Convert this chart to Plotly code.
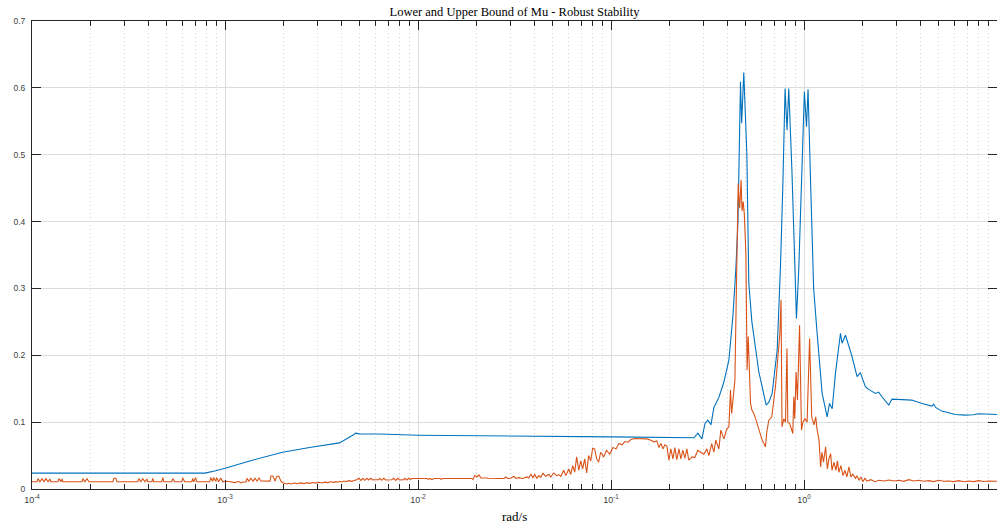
import plotly.graph_objects as go

# Upper bound of mu (log10 of frequency in rad/s, value)
logw_upper = [-4.000, -3.648, -3.493, -3.441, -3.390, -3.105, -3.053, -3.000, -2.872, -2.702,
              -2.562, -2.407, -2.334, -2.324, -2.303, -2.200, -2.000, -1.579, -1.000, -0.570,
              -0.550, -0.529, -0.513, -0.498, -0.482, -0.467, -0.441, -0.415, -0.389, -0.368,
              -0.353, -0.342, -0.329, -0.323, -0.312, -0.296, -0.286, -0.270, -0.251, -0.234,
              -0.217, -0.196, -0.182, -0.165, -0.139, -0.122, -0.110, -0.098, -0.088, -0.079,
              -0.063, -0.050, -0.039, -0.027, -0.011, 0.002, 0.013, 0.021, 0.035, 0.050,
              0.068, 0.094, 0.120, 0.132, 0.146, 0.163, 0.189, 0.197, 0.215, 0.249,
              0.275, 0.292, 0.318, 0.335, 0.370, 0.387, 0.404, 0.439, 0.456, 0.490,
              0.559, 0.611, 0.663, 0.672, 0.682, 0.714, 0.783, 0.835, 0.878, 0.904,
              0.973, 1.000]
mu_upper = [0.0238, 0.0238, 0.0240, 0.0248, 0.0242, 0.0238, 0.0270, 0.0310, 0.0420, 0.0550,
            0.0620, 0.0690, 0.0810, 0.0836, 0.0825, 0.0822, 0.0805, 0.0790, 0.0780, 0.0766,
            0.0836, 0.0750, 0.0980, 0.1030, 0.0960, 0.1220, 0.1370, 0.1600, 0.1930, 0.2600,
            0.3300, 0.4000, 0.6090, 0.5470, 0.6230, 0.5000, 0.3080, 0.2500, 0.2080, 0.1750,
            0.1530, 0.1255, 0.1300, 0.1430, 0.2080, 0.3320, 0.4500, 0.5990, 0.5370, 0.5990,
            0.4800, 0.3600, 0.2550, 0.3300, 0.4600, 0.5940, 0.5420, 0.5980, 0.4500, 0.3000,
            0.2330, 0.1430, 0.1080, 0.1280, 0.1200, 0.1730, 0.2330, 0.2180, 0.2300, 0.1980,
            0.1680, 0.1740, 0.1530, 0.1490, 0.1430, 0.1450, 0.1380, 0.1255, 0.1345, 0.1340,
            0.1330, 0.1280, 0.1240, 0.1270, 0.1220, 0.1165, 0.1115, 0.1105, 0.1110, 0.1125,
            0.1115, 0.1115]

# Lower bound of mu (log10 of frequency in rad/s, value)
logw_lower = [-4.000, -3.974, -3.969, -3.959, -3.948, -3.938, -3.928, -3.917, -3.907, -3.902,
              -3.866, -3.860, -3.850, -3.845, -3.840, -3.741, -3.736, -3.726, -3.715, -3.705,
              -3.581, -3.576, -3.565, -3.560, -3.452, -3.446, -3.436, -3.426, -3.415, -3.405,
              -3.400, -3.379, -3.374, -3.369, -3.328, -3.322, -3.317, -3.276, -3.271, -3.260,
              -3.224, -3.219, -3.209, -3.172, -3.167, -3.162, -3.152, -3.146, -3.079, -3.074,
              -3.064, -3.059, -3.048, -3.043, -3.033, -3.022, -3.012, -3.000,
              -2.979, -2.959, -2.948, -2.938, -2.928, -2.917, -2.907, -2.891, -2.886, -2.876,
              -2.866, -2.855, -2.845, -2.834, -2.824, -2.814, -2.798, -2.767, -2.762, -2.752,
              -2.741, -2.731, -2.721, -2.710, -2.700, -2.679, -2.669, -2.659, -2.638, -2.628,
              -2.607, -2.591, -2.576, -2.560, -2.545, -2.529, -2.514, -2.498, -2.483, -2.467,
              -2.452, -2.436, -2.426, -2.415, -2.405, -2.395, -2.384, -2.374, -2.359, -2.343,
              -2.327, -2.317, -2.307, -2.296, -2.286, -2.276, -2.265, -2.255, -2.245, -2.234,
              -2.224, -2.203, -2.198, -2.188, -2.178, -2.167, -2.136, -2.126, -2.115, -2.105,
              -2.095, -2.074, -2.069, -2.058, -2.048, -2.038, -2.033,
              -1.953, -1.948, -1.938, -1.928, -1.917, -1.886, -1.881, -1.871, -1.860, -1.855,
              -1.721, -1.715, -1.705, -1.695, -1.684, -1.674, -1.648, -1.633, -1.581, -1.555,
              -1.545, -1.534, -1.519, -1.503, -1.493, -1.478, -1.457, -1.436, -1.426, -1.415,
              -1.405, -1.395, -1.384, -1.374, -1.364, -1.353, -1.338, -1.322, -1.312, -1.297,
              -1.281, -1.271, -1.260, -1.245, -1.234, -1.219, -1.209, -1.198, -1.188, -1.178,
              -1.167, -1.157, -1.147, -1.136, -1.126, -1.116, -1.105, -1.095, -1.085, -1.074,
              -1.064, -1.054, -1.038, -1.023, -1.007,
              -0.990, -0.974, -0.959, -0.943, -0.928, -0.912, -0.897, -0.876, -0.855, -0.834,
              -0.814, -0.793, -0.778, -0.762, -0.752, -0.741, -0.731, -0.721, -0.710, -0.700,
              -0.690, -0.679, -0.669, -0.659, -0.648, -0.638, -0.628, -0.617, -0.607, -0.597,
              -0.581, -0.566, -0.550, -0.535, -0.519, -0.503, -0.493, -0.478, -0.467, -0.457,
              -0.441, -0.431, -0.415, -0.400, -0.389, -0.381, -0.375, -0.369, -0.358, -0.349,
              -0.341, -0.338, -0.333, -0.326, -0.321, -0.315, -0.309, -0.301, -0.295, -0.289,
              -0.277, -0.270, -0.260, -0.250, -0.234, -0.219, -0.200, -0.193, -0.182, -0.167,
              -0.148, -0.136, -0.125, -0.119, -0.114, -0.105, -0.096, -0.088, -0.084, -0.074,
              -0.058, -0.053, -0.048, -0.041, -0.034, -0.023, -0.013, -0.006,
              0.005, 0.016, 0.029, 0.040, 0.052, 0.061, 0.067, 0.078, 0.086, 0.093,
              0.101, 0.112, 0.121, 0.129, 0.138, 0.145, 0.155, 0.166, 0.173, 0.181,
              0.191, 0.202, 0.212, 0.222, 0.233, 0.243, 0.253, 0.267, 0.274, 0.285,
              0.295, 0.305, 0.316, 0.326, 0.347, 0.367, 0.388, 0.414, 0.440, 0.466,
              0.491, 0.517, 0.543, 0.569, 0.595, 0.621, 0.647, 0.672, 0.698, 0.724,
              0.750, 0.776, 0.802, 0.828, 0.854, 0.879, 0.905, 0.931, 0.957, 1.000]
mu_lower = [0.0108, 0.0108, 0.0155, 0.0108, 0.0155, 0.0108, 0.0155, 0.0108, 0.0150, 0.0108,
            0.0108, 0.0155, 0.0108, 0.0150, 0.0108, 0.0108, 0.0155, 0.0108, 0.0155, 0.0108,
            0.0108, 0.0160, 0.0160, 0.0108, 0.0108, 0.0155, 0.0108, 0.0155, 0.0108, 0.0150,
            0.0108, 0.0108, 0.0160, 0.0108, 0.0108, 0.0170, 0.0108, 0.0108, 0.0155, 0.0108,
            0.0108, 0.0165, 0.0108, 0.0108, 0.0160, 0.0108, 0.0170, 0.0108, 0.0108, 0.0170,
            0.0115, 0.0170, 0.0115, 0.0170, 0.0108, 0.0165, 0.0108, 0.0115,
            0.0112, 0.0100, 0.0095, 0.0108, 0.0110, 0.0090, 0.0105, 0.0105, 0.0160, 0.0115,
            0.0160, 0.0115, 0.0160, 0.0120, 0.0165, 0.0120, 0.0118, 0.0118, 0.0195, 0.0195,
            0.0120, 0.0190, 0.0190, 0.0118, 0.0090, 0.0075, 0.0085, 0.0075, 0.0090, 0.0078,
            0.0092, 0.0080, 0.0095, 0.0085, 0.0098, 0.0088, 0.0100, 0.0090, 0.0102, 0.0095,
            0.0108, 0.0100, 0.0110, 0.0102, 0.0115, 0.0105, 0.0120, 0.0108, 0.0125, 0.0115,
            0.0130, 0.0138, 0.0160, 0.0128, 0.0160, 0.0130, 0.0160, 0.0135, 0.0160, 0.0135,
            0.0138, 0.0138, 0.0160, 0.0130, 0.0160, 0.0135, 0.0138, 0.0160, 0.0128, 0.0160,
            0.0135, 0.0140, 0.0160, 0.0135, 0.0160, 0.0138, 0.0158,
            0.0158, 0.0145, 0.0158, 0.0140, 0.0158, 0.0158, 0.0145, 0.0158, 0.0150, 0.0158,
            0.0158, 0.0140, 0.0205, 0.0180, 0.0210, 0.0165, 0.0165, 0.0160, 0.0158, 0.0158,
            0.0180, 0.0158, 0.0160, 0.0190, 0.0158, 0.0170, 0.0158, 0.0180, 0.0165, 0.0220,
            0.0170, 0.0215, 0.0160, 0.0200, 0.0175, 0.0235, 0.0190, 0.0220, 0.0180, 0.0240,
            0.0200, 0.0215, 0.0190, 0.0280, 0.0200, 0.0300, 0.0220, 0.0350, 0.0250, 0.0480,
            0.0280, 0.0420, 0.0300, 0.0450, 0.0240, 0.0500, 0.0420, 0.0610, 0.0600, 0.0450,
            0.0400, 0.0550, 0.0480, 0.0580, 0.0520,
            0.0620, 0.0600, 0.0680, 0.0660, 0.0710, 0.0700, 0.0740, 0.0755, 0.0757, 0.0755,
            0.0750, 0.0730, 0.0706, 0.0720, 0.0620, 0.0680, 0.0600, 0.0660, 0.0640, 0.0430,
            0.0600, 0.0450, 0.0620, 0.0440, 0.0600, 0.0450, 0.0580, 0.0460, 0.0600, 0.0430,
            0.0480, 0.0470, 0.0580, 0.0550, 0.0520, 0.0600, 0.0500, 0.0680, 0.0550, 0.0730,
            0.0600, 0.0880, 0.0750, 0.0900, 0.0930, 0.1480, 0.1130, 0.1300, 0.1630, 0.3220,
            0.4570, 0.4400, 0.4200, 0.4620, 0.4160, 0.4300, 0.4100, 0.3500, 0.1780, 0.2280,
            0.1280, 0.1180, 0.1130, 0.1050, 0.0880, 0.0750, 0.0630, 0.0850, 0.1030, 0.1080,
            0.1530, 0.1900, 0.2330, 0.2830, 0.0930, 0.1050, 0.1000, 0.2100, 0.1000, 0.0980,
            0.0830, 0.1380, 0.1050, 0.1750, 0.1330, 0.2450, 0.0880, 0.1000,
            0.1050, 0.1000, 0.2250, 0.1080, 0.0960, 0.1080, 0.0900, 0.0730, 0.0330, 0.0550,
            0.0400, 0.0630, 0.0300, 0.0450, 0.0530, 0.0280, 0.0400, 0.0280, 0.0420, 0.0250,
            0.0350, 0.0200, 0.0280, 0.0180, 0.0330, 0.0180, 0.0220, 0.0160, 0.0200, 0.0130,
            0.0180, 0.0110, 0.0160, 0.0120, 0.0140, 0.0110, 0.0130, 0.0120, 0.0135, 0.0120,
            0.0130, 0.0115, 0.0140, 0.0120, 0.0130, 0.0115, 0.0125, 0.0110, 0.0130, 0.0115,
            0.0120, 0.0110, 0.0125, 0.0108, 0.0120, 0.0110, 0.0125, 0.0112, 0.0120, 0.0115]

x_tick_vals = [1e-4, 1e-3, 1e-2, 1e-1, 1e0, 1e1]
x_tick_text = ["10<sup>-4</sup>", "10<sup>-3</sup>", "10<sup>-2</sup>",
               "10<sup>-1</sup>", "10<sup>0</sup>", "10<sup>1</sup>"]
y_tick_vals = [0, 0.1, 0.2, 0.3, 0.4, 0.5, 0.6, 0.7]
y_tick_text = ["0", "0.1", "0.2", "0.3", "0.4", "0.5", "0.6", "0.7"]

title_text = "Lower and Upper Bound of Mu - Robust Stability"
xlabel_text = "rad/s"

w_upper = [10 ** v for v in logw_upper]
w_lower = [10 ** v for v in logw_lower]

minor_vals = [k * 10.0 ** e for e in range(-4, 1) for k in range(2, 10)]

axis_col = "#262626"
serif = "Liberation Serif, Times New Roman, serif"
tick_font = dict(family="Liberation Sans, Arial, sans-serif", size=8.5, color="#404040")
x_tick_font = dict(family="Liberation Sans, Arial, sans-serif", size=9, color="#404040")

fig = go.Figure()
fig.add_trace(go.Scatter(x=w_upper, y=mu_upper, mode="lines",
                         line=dict(color="#0072BD", width=1.1), showlegend=False))
fig.add_trace(go.Scatter(x=w_lower, y=mu_lower, mode="lines",
                         line=dict(color="#D95319", width=1.1), showlegend=False))

fig.update_layout(
    width=997, height=523,
    margin=dict(l=32, r=0, t=21, b=34, autoexpand=False),
    paper_bgcolor="white", plot_bgcolor="white",
    title=dict(text=title_text, x=0.5, xref="paper", xanchor="center", y=0.977, yanchor="middle",
               yref="container", font=dict(family=serif, size=12.5, color="#000000")),
    xaxis=dict(
        type="log", range=[-4, 1], automargin=False,
        tickmode="array", tickvals=x_tick_vals, ticktext=x_tick_text,
        showgrid=True, gridcolor="#dcdcdc", gridwidth=1,
        ticks="inside", ticklen=9, tickwidth=1, tickcolor=axis_col,
        showline=True, linecolor=axis_col, linewidth=1, mirror="allticks",
        zeroline=False, tickfont=x_tick_font, ticklabelstandoff=2,
        minor=dict(tickmode="array", tickvals=minor_vals, ticks="inside", ticklen=5,
                   tickcolor=axis_col, showgrid=True, gridcolor="#d4d4d4",
                   griddash="1px,3px"),
    ),
    yaxis=dict(
        range=[0, 0.7], automargin=False,
        tickmode="array", tickvals=y_tick_vals, ticktext=y_tick_text,
        showgrid=True, gridcolor="#dcdcdc", gridwidth=1,
        ticks="inside", ticklen=9, tickwidth=1, tickcolor=axis_col,
        showline=True, linecolor=axis_col, linewidth=1, mirror="allticks",
        zeroline=False, tickfont=tick_font, ticklabelstandoff=4,
    ),
    annotations=[dict(text=xlabel_text, xref="paper", yref="paper", x=0.5, y=-0.0577,
                      xanchor="center", yanchor="middle", showarrow=False,
                      font=dict(family=serif, size=13, color="#000000"))],
)

# remove the default 8px page margin so the 997x523 figure fills the window exactly
fig.write_html("out.html", config={"displayModeBar": False},
               post_script="document.body.style.margin='0px';document.body.style.overflow='hidden';")
